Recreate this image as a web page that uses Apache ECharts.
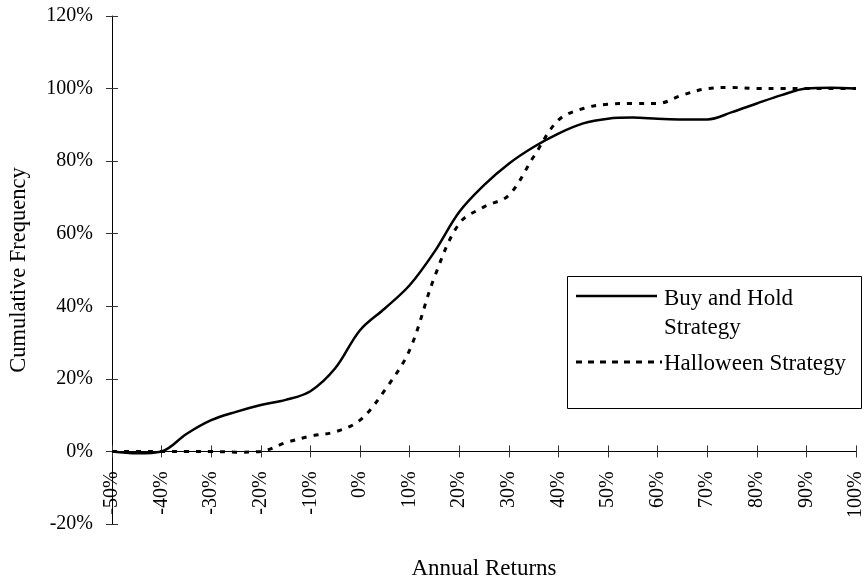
<!DOCTYPE html>
<html>
<head>
<meta charset="utf-8">
<script src="https://cdn.jsdelivr.net/npm/echarts@6/dist/echarts.min.js"></script>
<style>
html,body{margin:0;padding:0;background:#fff;}
#chart{width:864px;height:581px;}
</style>
</head>
<body>
<div id="chart"></div>
<script>
// Data
const returns = [-50,-45,-40,-35,-30,-25,-20,-15,-10,-5,0,5,10,15,20,25,30,35,40,45,50,55,60,65,70,75,80,85,90,95,100];
const buyHold = [0,-0.5,0,4.8,8.6,10.9,12.8,14.2,16.6,22.9,33.4,39.4,45.8,55,66,73.4,79.3,83.9,87.6,90.4,91.7,92,91.7,91.5,91.5,93.5,95.9,98.2,100,100.2,100];
const halloween = [0,0,0,0,0,-0.2,0,2.4,4.2,5.4,8.6,16.9,27.9,48,62.8,67.4,70.6,81.2,91.3,94.5,95.7,95.9,95.9,98.2,100,100.3,100,100,100,100,100];
const seriesNames = ['Buy and Hold Strategy', 'Halloween Strategy'];
const xTitle = 'Annual Returns';
const yTitle = 'Cumulative Frequency';
const yMin = -20, yMax = 120, yStep = 20;
const xMin = -50, xMax = 100, xStep = 10;

const FONT = 'Liberation Serif';
const W = 864, H = 581;
const G = {left:112, right:8, top:16, bottom:57};
const chart = echarts.init(document.getElementById('chart'), null, {renderer: 'canvas'});

function pairs(vals){ return returns.map((x,i)=>[x, vals[i]]); }

// x axis crosses the y axis at 0: shift it up from the grid bottom
const gridH = H - G.top - G.bottom;
const zeroOffset = -gridH * (0 - yMin) / (yMax - yMin);

const axisLineStyle = {color:'#000', width:1};
const tickStyle = {color:'#333', width:1};

const option = {
  animation: false,
  backgroundColor: '#fff',
  grid: Object.assign({containLabel:false, outerBoundsMode:'none'}, G),
  xAxis: [{
    type:'value', min:xMin, max:xMax, interval:xStep, position:'bottom', offset:zeroOffset,
    axisLine:{show:true, onZero:false, lineStyle:axisLineStyle},
    axisTick:{show:true, inside:false, length:6, lineStyle:tickStyle},
    splitLine:{show:false},
    axisLabel:{rotate:90, margin:20, color:'#000', fontFamily:FONT, fontSize:20, formatter:'{value}%'},
    name:xTitle, nameLocation:'middle', nameGap:106,
    nameTextStyle:{color:'#000', fontFamily:FONT, fontSize:23}
  },{
    type:'value', min:xMin, max:xMax, interval:xStep, position:'bottom', offset:zeroOffset,
    axisLine:{show:false, onZero:false},
    axisTick:{show:true, inside:true, length:6, lineStyle:tickStyle},
    splitLine:{show:false}, axisLabel:{show:false}
  }],
  yAxis: [{
    type:'value', min:yMin, max:yMax, interval:yStep,
    axisLine:{show:true, onZero:false, lineStyle:axisLineStyle},
    axisTick:{show:true, inside:false, length:6, lineStyle:tickStyle},
    splitLine:{show:false},
    axisLabel:{margin:19, color:'#000', fontFamily:FONT, fontSize:20, formatter:'{value}%'},
    name:yTitle, nameLocation:'middle', nameGap:81, nameRotate:90,
    nameTextStyle:{color:'#000', fontFamily:FONT, fontSize:22.5}
  },{
    type:'value', min:yMin, max:yMax, interval:yStep, position:'left',
    axisLine:{show:false, onZero:false},
    axisTick:{show:true, inside:true, length:6, lineStyle:tickStyle},
    splitLine:{show:false}, axisLabel:{show:false}
  }],
  series: [{
    name: seriesNames[0], type:'line', xAxisIndex:0, yAxisIndex:0,
    data: pairs(buyHold), smooth:0.35, symbol:'none',
    lineStyle:{color:'#000', width:2.5, type:'solid'}
  },{
    name: seriesNames[1], type:'line', xAxisIndex:0, yAxisIndex:0,
    data: pairs(halloween), smooth:0.35, symbol:'none',
    lineStyle:{color:'#000', width:3, type:[5,7]}
  }],
  graphic: [
    {type:'rect', shape:{x:567.5, y:276.5, width:294, height:132}, style:{fill:'#fff', stroke:'#000', lineWidth:1}, z:10},
    {type:'line', shape:{x1:576, y1:296, x2:657, y2:296}, style:{stroke:'#000', lineWidth:2.5}, z:11},
    {type:'line', shape:{x1:576, y1:362, x2:662, y2:362}, style:{stroke:'#000', lineWidth:3, lineDash:[6,6]}, z:11},
    {type:'text', x:664, y:287, style:{text:'Buy and Hold', fill:'#000', font:'23px "Liberation Serif"'}, z:11},
    {type:'text', x:664, y:316, style:{text:'Strategy', fill:'#000', font:'23px "Liberation Serif"'}, z:11},
    {type:'text', x:664, y:352, style:{text:'Halloween Strategy', fill:'#000', font:'23px "Liberation Serif"'}, z:11}
  ]
};
chart.setOption(option);
</script>
</body>
</html>
